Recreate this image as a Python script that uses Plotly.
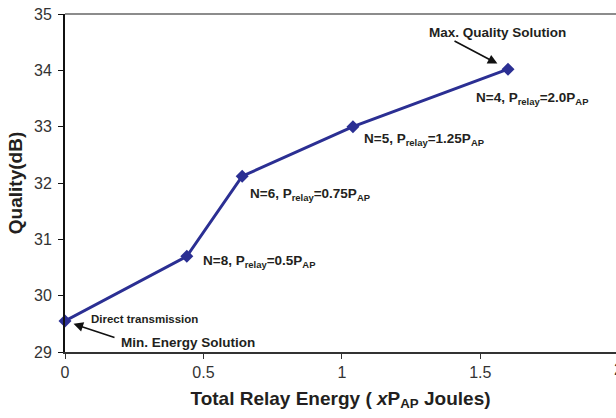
import plotly.graph_objects as go

energy = [0, 0.44, 0.64, 1.04, 1.60]
quality = [29.55, 30.70, 32.12, 33.00, 34.02]
point_labels = [
    "Direct transmission",
    "N=8, P<sub>relay</sub>=0.5P<sub>AP</sub>",
    "N=6, P<sub>relay</sub>=0.75P<sub>AP</sub>",
    "N=5, P<sub>relay</sub>=1.25P<sub>AP</sub>",
    "N=4, P<sub>relay</sub>=2.0P<sub>AP</sub>",
]
x_ticks = [0, 0.5, 1, 1.5]
y_ticks = [29, 30, 31, 32, 33, 34, 35]
x_max = 1.99

FONT = "Liberation Sans, Arial, sans-serif"
TXT = "#231f20"
LINE = "#2b2f93"

fig = go.Figure()
fig.add_trace(go.Scatter(
    x=energy, y=quality, mode="lines+markers",
    line=dict(color=LINE, width=3),
    marker=dict(symbol="diamond", size=10, color=LINE),
    cliponaxis=False, showlegend=False, hoverinfo="x+y",
))

# label offsets (pixels) relative to their points
offsets = [(24, 2, 11.5), (14, -5, 13.5), (6, -18, 13.5), (9, -13, 13.5), (-34, -29, 13.5)]
anns = []
for xv, yv, lab, (dx, dy, fs) in zip(energy, quality, point_labels, offsets):
    anns.append(dict(x=xv, y=yv, xref="x", yref="y", text="<b>" + lab + "</b>",
                     showarrow=False, xanchor="left", yanchor="middle",
                     xshift=dx, yshift=dy, font=dict(family=FONT, size=fs, color=TXT)))

# Min energy solution
anns.append(dict(x=energy[0], y=quality[0], xref="x", yref="y", text="<b>Min. Energy Solution</b>",
                 showarrow=False, xanchor="left", yanchor="middle", xshift=54, yshift=-21,
                 font=dict(family=FONT, size=13.5, color=TXT)))
anns.append(dict(x=energy[0], y=quality[0], xref="x", yref="y", text="",
                 showarrow=True, ax=51, ay=17, arrowhead=2, arrowsize=1.2, arrowwidth=1.6,
                 arrowcolor="#111", standoff=9))
# Max quality solution
anns.append(dict(x=energy[-1], y=quality[-1], xref="x", yref="y", text="<b>Max. Quality Solution</b>",
                 showarrow=False, xanchor="center", yanchor="middle", xshift=-11, yshift=37,
                 font=dict(family=FONT, size=13.5, color=TXT)))
anns.append(dict(x=energy[-1], y=quality[-1], xref="x", yref="y", text="",
                 showarrow=True, ax=-55, ay=-29, arrowhead=2, arrowsize=1.2, arrowwidth=1.6,
                 arrowcolor="#111", standoff=12))
# cut-off "2" tick label at the right edge
anns.append(dict(x=2 / x_max, y=0, xref="paper", yref="paper", text="2", showarrow=False,
                 xanchor="center", yanchor="top", yshift=-7,
                 font=dict(family=FONT, size=16, color="#333")))

fig.update_layout(
    width=616, height=418,
    margin=dict(l=65, r=0, t=14, b=66),
    plot_bgcolor="white", paper_bgcolor="white",
    annotations=anns,
    shapes=[dict(type="line", xref="paper", yref="paper", x0=0, x1=1, y0=1, y1=1,
                 line=dict(color="#666", width=1.5))],
    xaxis=dict(
        range=[0, x_max], tickvals=x_ticks, ticktext=[str(t) for t in x_ticks],
        showgrid=False, zeroline=False, showline=True, linecolor="#333", linewidth=2,
        ticks="outside", ticklen=5, tickcolor="#333", tickwidth=1,
        ticklabelstandoff=0,
        tickfont=dict(family=FONT, size=16, color="#333"),
        title=dict(text="<b>Total Relay Energy ( <i>x</i>P<sub>AP</sub> Joules)</b>",
                   font=dict(family=FONT, size=19, color=TXT), standoff=11),
    ),
    yaxis=dict(
        range=[29, 35], tickvals=y_ticks,
        showgrid=False, zeroline=False, showline=True, linecolor="#111", linewidth=2,
        ticks="outside", ticklen=5, tickcolor="#111", tickwidth=1,
        ticklabelstandoff=3,
        tickfont=dict(family=FONT, size=16, color="#333"),
        title=dict(text="<b>Quality(dB)</b>",
                   font=dict(family=FONT, size=19, color=TXT), standoff=6),
    ),
)

fig.write_html("out.html")
